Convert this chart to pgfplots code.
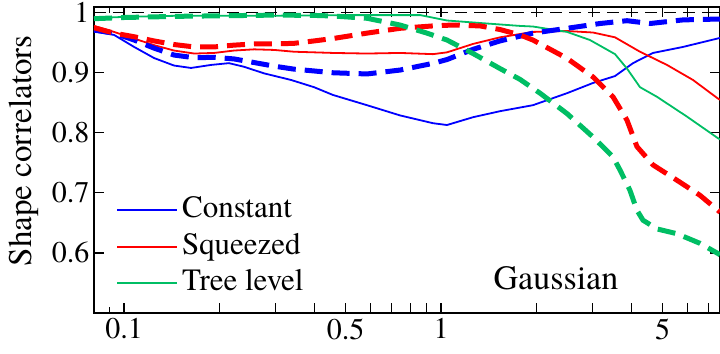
\documentclass[border=0pt]{standalone}
\usepackage{fontspec}
\setmainfont{texgyretermes}[Extension=.otf, UprightFont=*-regular, BoldFont=*-bold, ItalicFont=*-italic, BoldItalicFont=*-bolditalic]
\usepackage{pgfplots}
\pgfplotsset{compat=1.18}
\definecolor{cblue}{RGB}{0,0,255}
\definecolor{cred}{RGB}{255,0,0}
\definecolor{cgreen}{RGB}{0,190,100}
\begin{document}
\begin{tikzpicture}
\begin{axis}[
  at={(94bp,41bp)}, anchor=south west,
  scale only axis, width=626bp, height=306bp,
  xmode=log, xmin=0.0804, xmax=7.59, ymin=0.5, ymax=1.0095,
  axis line style={line width=1.5bp},
  tick style={line width=1.2bp, black},
  tick align=inside,
  major tick length=10bp, minor tick length=6bp,
  xtick={0.1,0.2,0.3,0.4,0.5,0.6,0.7,0.8,0.9,1,2,3,4,5,6,7},
  xticklabels={0.1,,,,0.5,,,,,1,,,,5,,},
  minor xtick={0.09},
  ytick={0.6,0.7,0.8,0.9,1},
  yticklabels={0.6,0.7,0.8,0.9,1},
  minor ytick={},
  ticklabel style={font=\fontsize{30bp}{36bp}\selectfont},
  xticklabel style={yshift=-2bp},
  yticklabel style={xshift=-1bp},
  /pgf/number format/assume math mode=true,
  ylabel={Shape correlators},
  ylabel style={at={(axis description cs:-0.1118,0.53)}, anchor=center, font=\fontsize{33bp}{38bp}\selectfont},
  legend cell align=left,
  legend image code/.code={\draw[#1, line width=2bp, solid] (0bp,0bp) -- (60bp,0bp);},
  legend style={draw=none, fill=none, at={(0.0351,0.3938)}, anchor=north west,
    font=\fontsize{31bp}{37bp}\selectfont, inner sep=0pt, row sep=1.5bp, column sep=2bp,
    nodes={inner sep=2bp, text height=23bp, text depth=8bp}},
]
\addplot[black, line width=1.2bp, dash pattern=on 12bp off 7bp, forget plot] coordinates {(0.0804,1) (7.59,1)};

\addplot[cblue, line width=1.8bp] coordinates {
(0.0804,0.969) (0.0930,0.963) (0.1076,0.943) (0.1244,0.9245) (0.1438,0.912) (0.1627,0.908) (0.188,0.913) (0.2143,0.916) (0.239,0.910) (0.2766,0.899) (0.3365,0.888) (0.3976,0.876) (0.4563,0.863) (0.5842,0.846) (0.7425,0.829) (0.9436,0.816) (1.0445,0.813) (1.262,0.826) (1.535,0.836) (1.95,0.846) (2.498,0.866) (3.017,0.883) (3.54,0.8945) (4.034,0.916) (4.666,0.933) (5.80,0.943) (7.59,0.958)};
\addlegendentry{Constant}

\addplot[cred, line width=1.8bp] coordinates {
(0.0804,0.978) (0.0930,0.968) (0.1076,0.957) (0.1244,0.946) (0.1438,0.937) (0.1665,0.932) (0.1925,0.933) (0.2225,0.937) (0.2573,0.939) (0.2975,0.938) (0.344,0.935) (0.3976,0.934) (0.4563,0.933) (0.5842,0.932) (0.7425,0.933) (0.9436,0.931) (1.0445,0.934) (1.262,0.948) (1.535,0.959) (1.95,0.968) (2.498,0.9695) (3.017,0.967) (3.54,0.959) (4.244,0.935) (5.164,0.913) (6.237,0.888) (7.48,0.857) (7.59,0.855)};
\addlegendentry{Squeezed}

\addplot[cgreen, line width=1.8bp] coordinates {
(0.0804,0.991) (0.1,0.993) (0.15,0.995) (0.3,0.995) (0.5,0.996) (0.86,0.996) (1.0445,0.987) (1.397,0.982) (1.775,0.978) (1.95,0.977) (2.498,0.968) (2.951,0.9545) (3.54,0.931) (3.862,0.907) (4.244,0.876) (4.80,0.86) (5.97,0.827) (7.48,0.791) (7.59,0.789)};
\addlegendentry{Tree level}

\addplot[cblue, line width=5bp, dash pattern=on 18bp off 9bp, forget plot] coordinates {
(0.0804,0.971) (0.0930,0.966) (0.1076,0.9545) (0.1244,0.941) (0.1438,0.9295) (0.1665,0.925) (0.1925,0.9257) (0.2225,0.923) (0.2573,0.917) (0.2975,0.911) (0.344,0.906) (0.3976,0.903) (0.4563,0.900) (0.5842,0.898) (0.7425,0.9045) (0.9436,0.9157) (1.0445,0.922) (1.262,0.939) (1.535,0.953) (1.95,0.966) (2.498,0.974) (3.174,0.982) (3.862,0.9867) (4.564,0.982) (5.80,0.988) (7.59,0.9895)};

\addplot[cred, line width=5bp, dash pattern=on 18bp off 9bp, forget plot] coordinates {
(0.0804,0.975) (0.0930,0.966) (0.1076,0.960) (0.1244,0.953) (0.1438,0.947) (0.1665,0.943) (0.1925,0.943) (0.2225,0.946) (0.2573,0.948) (0.2975,0.948) (0.344,0.949) (0.3976,0.953) (0.4563,0.957) (0.5842,0.966) (0.7425,0.974) (0.9436,0.978) (1.091,0.9795) (1.328,0.978) (1.535,0.972) (1.775,0.963) (1.95,0.9545) (2.498,0.924) (3.017,0.893) (3.488,0.860) (3.862,0.821) (4.152,0.777) (4.666,0.7465) (5.553,0.721) (6.562,0.696) (7.59,0.668)};

\addplot[cgreen, line width=5bp, dash pattern=on 18bp off 9bp, forget plot] coordinates {
(0.0804,0.990) (0.1,0.992) (0.15,0.994) (0.3,0.996) (0.3976,0.9955) (0.4563,0.9945) (0.5842,0.9907) (0.7425,0.9795) (0.903,0.966) (1.0445,0.9545) (1.262,0.932) (1.535,0.907) (1.775,0.889) (2.053,0.866) (2.498,0.832) (3.017,0.793) (3.488,0.76) (3.671,0.738) (3.944,0.7045) (4.152,0.671) (4.338,0.6545) (4.80,0.640) (5.553,0.632) (6.562,0.616) (7.48,0.599) (7.59,0.597)};

\node[anchor=base, font=\fontsize{34bp}{40bp}\selectfont] at (rel axis cs:0.738,0.0752) {Gaussian};
\end{axis}
\pgfresetboundingbox
\path[use as bounding box] (0,0) rectangle (720bp,354bp);
\end{tikzpicture}
\end{document}
